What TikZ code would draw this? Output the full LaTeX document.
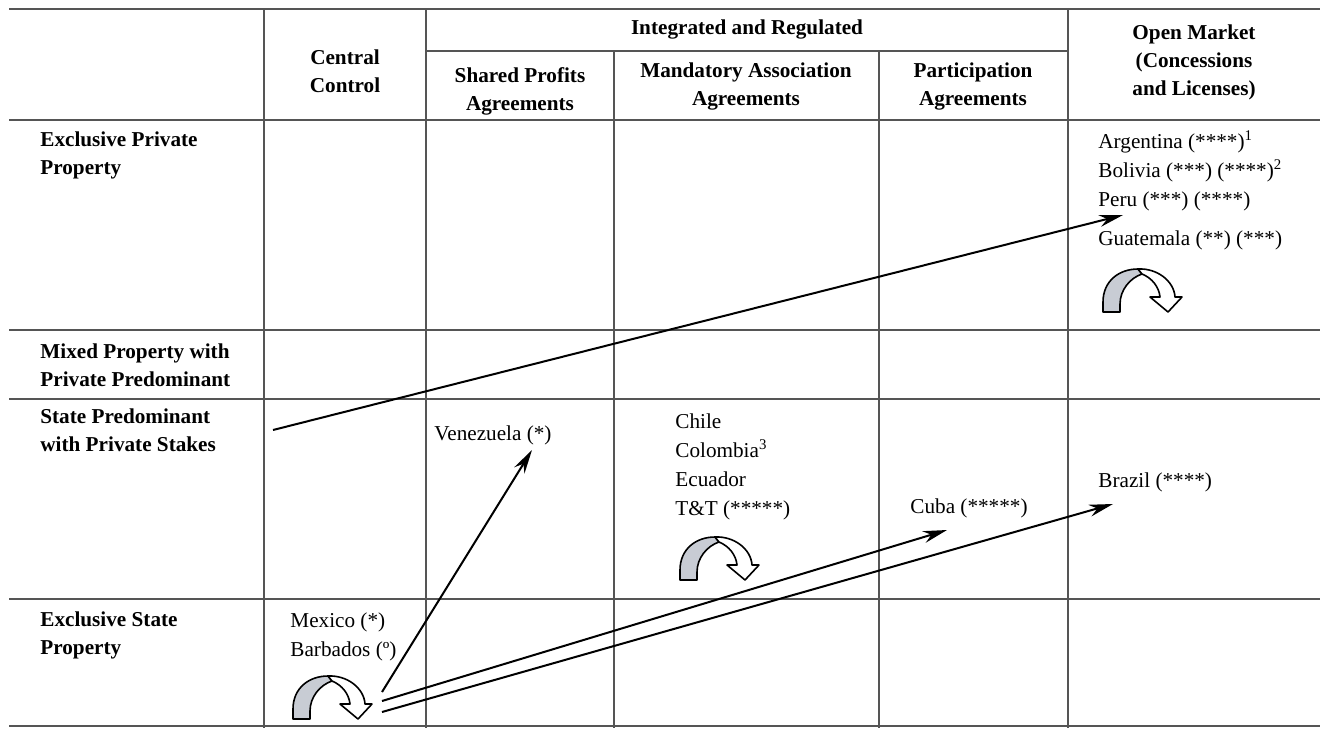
\documentclass[tikz,border=0pt]{standalone}
\usepackage{fontspec}
\setmainfont{Liberation Serif}
\usepackage{tikz}
\usetikzlibrary{arrows.meta}
\usepackage{xcolor}
\definecolor{ColGrid}{RGB}{85,85,85}
\definecolor{ColBand}{RGB}{200,204,212}
\tikzstyle{Grid}=[ColGrid,line width=0.75pt]
\tikzstyle{HeadText}=[font=\fontsize{10.6}{14}\selectfont\bfseries,align=center,inner sep=0pt]
\tikzstyle{RowText}=[font=\fontsize{10.6}{14}\selectfont\bfseries,align=left,anchor=west,inner sep=0pt]
\tikzstyle{CellText}=[font=\fontsize{10.6}{14.5}\selectfont,align=left,anchor=west,inner sep=0pt]
\tikzstyle{Move}=[line width=1pt,-{Stealth[length=12pt,width=6pt]}]
\tikzset{TurnArrow/.pic={
  \begin{scope}[yscale=-1,line width=0.8pt,line join=round]
    \filldraw[fill=ColBand,draw=black](0,0)--(0,10)..controls(0,31)and(16,43)..(35,43)
      --(39,38)..controls(27,34)and(17,22)..(17,8)--(17,0)--cycle;
    \filldraw[fill=white,draw=black](35,43)..controls(54,44)and(71,31)..(72,15)--(79,15)
      --(65,0)--(47,15)--(57,15)..controls(56,25)and(49,34)..(39,38)--cycle;
  \end{scope}}}

\begin{document}
\begin{tikzpicture}[x=0.5pt,y=-0.5pt]
        \useasboundingbox(0,0)rectangle(1320,728);
        % table rules
        \draw[Grid](9,9)--(1320,9);
        \draw[Grid](426,51)--(1068,51);
        \draw[Grid](9,120)--(1320,120);
        \foreach \y in {330,399,599,726}
            \draw[Grid](9,\y)--(1320,\y);
        \foreach \x in {264,426,1068}
            \draw[Grid](\x,9)--(\x,728);
        \foreach \x in {614,879}
            \draw[Grid](\x,51)--(\x,728);
        % headings
        \node[HeadText](intreg)at(747,29){Integrated and Regulated};
        \node[HeadText](central)at(345,71){Central\\Control};
        \node[HeadText](shared)at(520,91){Shared Profits\\Agreements};
        \node[HeadText](mandatory)at(746,86){Mandatory Association\\Agreements};
        \node[HeadText](particip)at(973,86){Participation\\Agreements};
        \node[HeadText](openmkt)at(1194,62){Open Market\\(Concessions\\and Licenses)};
        \node[RowText](exclpriv)at(40,155){Exclusive Private\\Property};
        \node[RowText](mixed)at(40,365){Mixed Property with\\Private Predominant};
        \node[RowText](statepred)at(40,430){State Predominant\\with Private Stakes};
        \node[RowText](exclstate)at(40,635){Exclusive State\\Property};
        % countries
        \node[CellText](argbol)at(1098,171){Argentina (****)\textsuperscript{1}\\Bolivia (***) (****)\textsuperscript{2}\\Peru (***) (****)};
        \node[CellText](guate)at(1098,240){Guatemala (**) (***)};
        \node[CellText](chile)at(675,467){Chile\\Colombia\textsuperscript{3}\\Ecuador\\T\&T (*****)};
        \node[CellText](venez)at(434,435){Venezuela (*)};
        \node[CellText](cuba)at(910,508){Cuba (*****)};
        \node[CellText](brazil)at(1098,482){Brazil (****)};
        \node[CellText](mexico)at(290,637){Mexico (*)\\Barbados (º)};
        % turning arrows
        \pic at(1103,312){TurnArrow};
        \pic at(680,580){TurnArrow};
        \pic at(293,719){TurnArrow};
        % moves
        \coordinate(fromstate)at(273,430);
        \coordinate(toperu)at(1123,215);
        \coordinate(fromvz)at(382,692);
        \coordinate(tovz)at(532,450);
        \coordinate(fromcu)at(382,701);
        \coordinate(tocu)at(947,530);
        \coordinate(frombr)at(382,712);
        \coordinate(tobr)at(1113,504);
        \draw[Move](fromstate)--(toperu);
        \draw[Move](fromvz)--(tovz);
        \draw[Move](fromcu)--(tocu);
        \draw[Move](frombr)--(tobr);
    \end{tikzpicture}
\end{document}
